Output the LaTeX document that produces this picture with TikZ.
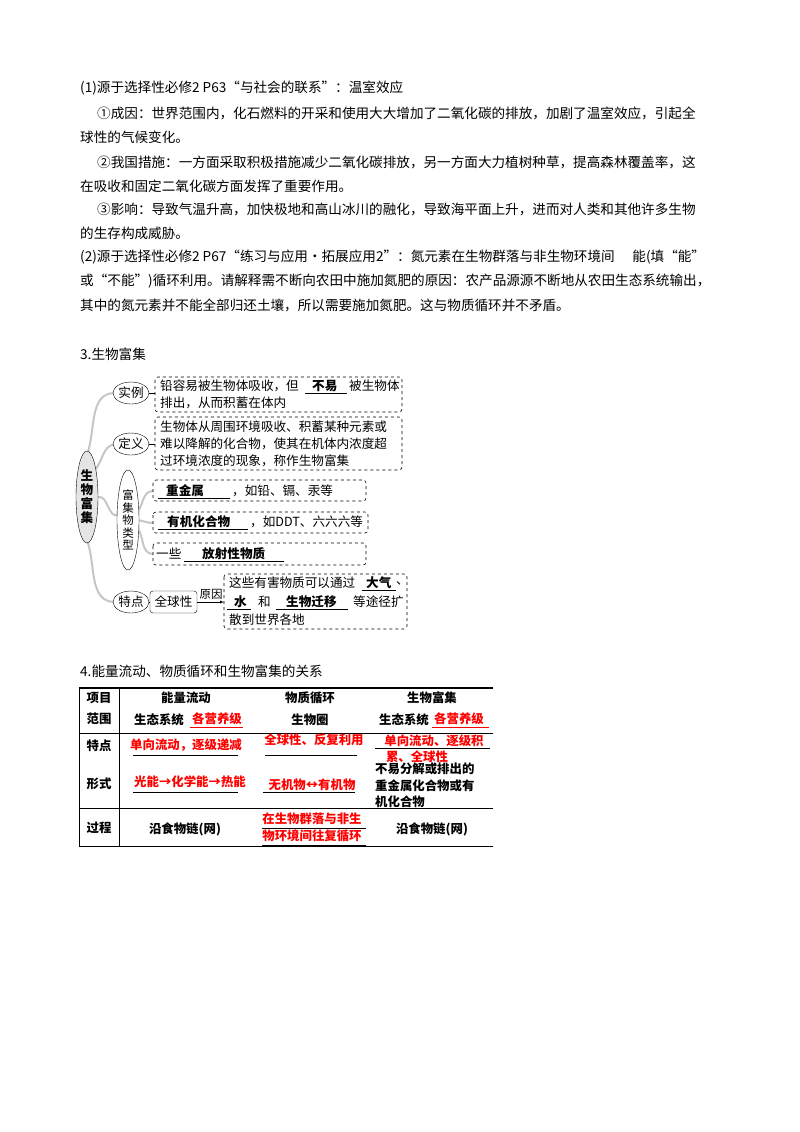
\documentclass[tikz,border=0pt]{standalone}
\usepackage{fontspec}
\setmainfont{Noto Sans CJK SC}
\usetikzlibrary{shapes.geometric}
\begin{document}
\begin{tikzpicture}[x=1pt,y=-1pt,
  txt/.style={anchor=west,inner sep=0pt,font=\fontsize{13.6}{15}\selectfont},
  mt/.style={anchor=west,inner sep=0pt,font=\fontsize{12.6}{14}\selectfont},
  mb/.style={mt,font=\bfseries\fontsize{12.6}{14}\selectfont},
  dbox/.style={draw,dashed,rounded corners=3pt,line width=0.6pt},
  oval/.style={draw,ellipse,inner sep=0pt,font=\fontsize{12.6}{14}\selectfont},
  br/.style={draw=gray!45,line width=2pt},
  tb/.style={inner sep=0pt,font=\bfseries\fontsize{12.4}{14}\selectfont,align=center},
  rd/.style={tb,text=red},
  ul/.style={line width=0.6pt}]
\useasboundingbox (0,0) rectangle (800,1132);
% paragraphs
\node[txt] (l1) at (80,88) {(1)源于选择性必修2 P63“与社会的联系”：温室效应};
\node[txt] (l2) at (97,113) {①成因：世界范围内，化石燃料的开采和使用大大增加了二氧化碳的排放，加剧了温室效应，引起全};
\node[txt] (l3) at (80,137) {球性的气候变化。};
\node[txt] (l4) at (97,162) {②我国措施：一方面采取积极措施减少二氧化碳排放，另一方面大力植树种草，提高森林覆盖率，这};
\node[txt] (l5) at (80,186) {在吸收和固定二氧化碳方面发挥了重要作用。};
\node[txt] (l6) at (97,209) {③影响：导致气温升高，加快极地和高山冰川的融化，导致海平面上升，进而对人类和其他许多生物};
\node[txt] (l7) at (80,233) {的生存构成威胁。};
\node[txt] (l8) at (80,257) {(2)源于选择性必修2 P67“练习与应用·拓展应用2”：氮元素在生物群落与非生物环境间\hspace{1.3em}能(填“能”};
\node[txt] (l9) at (80,281) {或“不能”)循环利用。请解释需不断向农田中施加氮肥的原因：农产品源源不断地从农田生态系统输出，};
\node[txt] (l10) at (80,305) {其中的氮元素并不能全部归还土壤，所以需要施加氮肥。这与物质循环并不矛盾。};
\node[txt] (h3) at (80,354) {3.生物富集};
% concept map
\coordinate (c) at (87,497);
\coordinate (s1) at (131,393);
\coordinate (s2) at (131,444);
\coordinate (s3) at (128,520);
\coordinate (s4) at (131,602);
\draw[br] (87,455) to[out=70,in=180] (115,393);
\draw[br] (95,470) to[out=50,in=190] (115,444);
\draw[br] (98,497) to[out=10,in=200] (118,515);
\draw[br] (87,540) to[out=-70,in=180] (115,602);
\draw[br] (135,515) to[out=40,in=180] (153,491);
\draw[br] (135,520) to[out=0,in=180] (153,523);
\draw[br] (135,525) to[out=-40,in=180] (153,554);
\node[oval,fill=white,minimum width=36pt,minimum height=22pt] (n1) at (s1) {实例};
\node[oval,fill=white,minimum width=36pt,minimum height=22pt] (n2) at (s2) {定义};
\node[oval,fill=white,minimum width=36pt,minimum height=22pt] (n4) at (s4) {特点};
\node[oval,fill=white,minimum width=22pt,minimum height=100pt,align=center,font=\fontsize{11.5}{12.5}\selectfont] (n3) at (s3) {富\\集\\物\\类\\型};
\node[oval,fill=gray!20,minimum width=22pt,minimum height=92pt,align=center,font=\bfseries\fontsize{12.6}{14}\selectfont] (n0) at (c) {生\\物\\富\\集};
% boxes
\draw[dbox] (155,377) rectangle (402,412);
\node[mt] (b1a) at (160,386) {铅容易被生物体吸收，但};
\node[mb] (b1u) at (312,386) {不易};
\node[mt] (b1c) at (349,386) {被生物体};
\draw[ul] (305,393) -- (347,393);
\node[mt] (b1b) at (160,403) {排出，从而积蓄在体内};
\draw (n1.east) -- (155,393);
\draw[dbox] (155,417) rectangle (402,470);
\node[mt] (b2a) at (160,427) {生物体从周围环境吸收、积蓄某种元素或};
\node[mt] (b2b) at (160,444) {难以降解的化合物，使其在机体内浓度超};
\node[mt] (b2c) at (160,461) {过环境浓度的现象，称作生物富集};
\draw (n2.east) -- (155,444);
\draw[dbox] (153,480) rectangle (366,501);
\node[mb] (b3u) at (166,491) {重金属};
\node[mt] (b3) at (232,491) {，如铅、镉、汞等};
\draw[ul] (158,498) -- (230,498);
\draw[dbox] (153,512) rectangle (368,533);
\node[mb] (b4u) at (167,522) {有机化合物};
\node[mt] (b4) at (250,522) {，如DDT、六六六等};
\draw[ul] (158,529) -- (248,529);
\draw[dbox] (153,543) rectangle (366,565);
\node[mt] (b5) at (156,554) {一些};
\node[mb] (b5u) at (202,554) {放射性物质};
\draw[ul] (184,561) -- (284,561);
\node[draw,rounded corners=3pt,minimum width=47pt,minimum height=22pt,inner sep=0pt,font=\fontsize{12.6}{14}\selectfont] (g) at (173.5,602) {全球性};
\draw (n4.east) -- (g.west);
\draw[dbox] (224,574) rectangle (407,629);
\coordinate (bx6) at (224,602);
\draw[-latex] (g.east) -- (bx6);
\node[inner sep=0pt,font=\fontsize{11.5}{13}\selectfont] (why) at (211,594) {原因};
\node[mt] (b6a) at (229,583) {这些有害物质可以通过};
\node[mb] at (366,583) {大气};
\node[mt] at (396,583) {、};
\draw[ul] (362,590) -- (396,590);
\node[mb] at (234,602) {水};
\draw[ul] (227,609) -- (251,609);
\node[mt] at (258,602) {和};
\node[mb] at (286,602) {生物迁移};
\draw[ul] (276,609) -- (348,609);
\node[mt] at (353,602) {等途径扩};
\node[mt] (b6c) at (229,620) {散到世界各地};
% section 4
\node[txt] (h4) at (80,671) {4.能量流动、物质循环和生物富集的关系};
\draw[line width=1.2pt] (79,688) -- (493,688);
\draw[line width=0.6pt] (79,688) -- (79,846) -- (493,846);
\draw[line width=0.6pt] (79,733) -- (493,733);
\draw[line width=0.6pt] (79,808) -- (493,808);
\draw[line width=0.6pt] (119,688) -- (119,846);
\node[tb] (r1) at (99,698) {项目};
\node[tb] (r2) at (99,719) {范围};
\node[tb] (r3) at (99,746) {特点};
\node[tb] (r4) at (99,784) {形式};
\node[tb] (r5) at (99,828) {过程};
\node[tb] at (186,698) {能量流动};
\node[tb] at (310,698) {物质循环};
\node[tb] at (432,698) {生物富集};
\node[tb] at (159,720) {生态系统};
\node[rd] at (217,719) {各营养级};
\draw[ul,red] (190,727) -- (243,727);
\node[tb] at (310,720) {生物圈};
\node[tb] at (404,720) {生态系统};
\node[rd] at (459,719) {各营养级};
\draw[ul,red] (432,727) -- (489,727);
\node[rd] at (186,745) {单向流动，逐级递减};
\draw[ul] (133,755) -- (238,755);
\node[rd] at (314,740) {全球性、反复利用};
\draw[ul] (265,755) -- (357,755);
\node[rd] at (434,741) {单向流动、逐级积};
\draw[ul] (375,748) -- (490,748);
\node[rd] at (417,757) {累、全球性};
\node[rd] at (190,782) {光能→化学能→热能};
\draw[ul] (133,792) -- (238,792);
\node[rd] at (312,785) {无机物↔有机物};
\draw[ul] (263,792) -- (355,792);
\node[tb,anchor=west] at (375,769) {不易分解或排出的};
\node[tb,anchor=west] at (375,786) {重金属化合物或有};
\node[tb,anchor=west] at (375,802) {机化合物};
\node[tb] at (185,829) {沿食物链(网)};
\node[rd] at (312,819) {在生物群落与非生};
\draw[ul] (262,828) -- (366,828);
\node[rd] at (312,836) {物环境间往复循环};
\draw[ul] (262,845) -- (366,845);
\node[tb] at (432,829) {沿食物链(网)};
\end{tikzpicture}
\end{document}
